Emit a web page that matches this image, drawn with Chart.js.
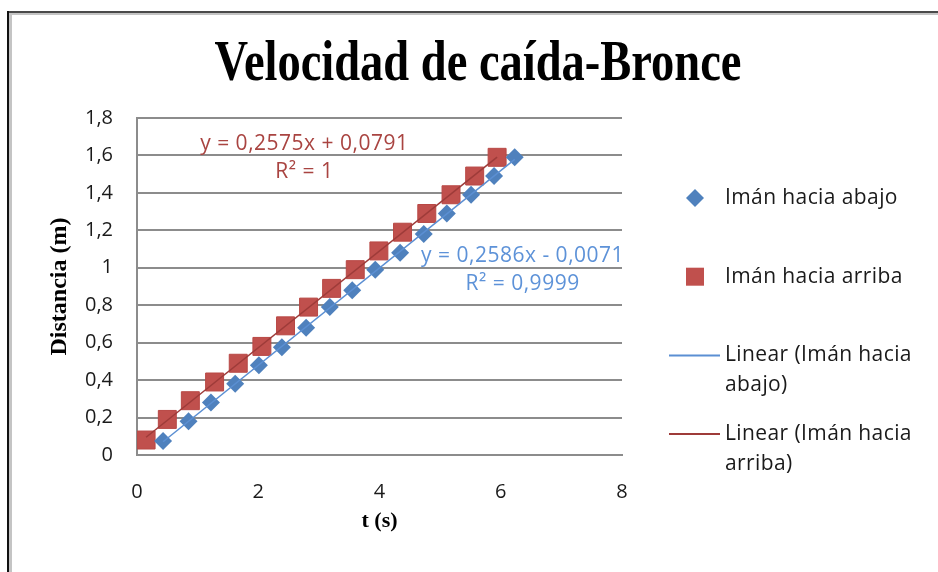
<!DOCTYPE html>
<html>
<head>
<meta charset="utf-8">
<script src="https://cdn.jsdelivr.net/npm/chart.js@4/dist/chart.umd.min.js"></script>
<style>
  html, body { margin: 0; padding: 0; background: #fff; }
  #wrap { position: relative; width: 938px; height: 572px; }
</style>
</head>
<body>
<div id="wrap"><canvas id="chart" width="938" height="572"></canvas></div>
<script>
// valores
const tAbajo  = [0.43, 0.85, 1.22, 1.62, 2.01, 2.39, 2.79, 3.18, 3.55, 3.93, 4.34, 4.73, 5.11, 5.51, 5.89, 6.23];
const dAbajo  = [0.075, 0.18, 0.28, 0.38, 0.48, 0.575, 0.68, 0.79, 0.88, 0.99, 1.08, 1.18, 1.29, 1.39, 1.49, 1.59];
const tArriba = [0.15, 0.50, 0.88, 1.28, 1.67, 2.06, 2.45, 2.83, 3.21, 3.60, 3.99, 4.38, 4.78, 5.18, 5.57, 5.94];
const dArriba = [0.08, 0.19, 0.29, 0.39, 0.49, 0.58, 0.69, 0.79, 0.89, 0.99, 1.09, 1.19, 1.29, 1.39, 1.49, 1.59];

const seriesLabels = ["Imán hacia abajo", "Imán hacia arriba"];
const trendLabels = ["Linear (Imán hacia abajo)", "Linear (Imán hacia arriba)"];
// etiquetas de las ecuaciones (texto y posición en unidades de datos)
const eqAbajo  = ["y = 0,2586x - 0,0071", "R² = 0,9999"];
const eqArriba = ["y = 0,2575x + 0,0791", "R² = 1"];
const eqAbajoAt  = [[6.36, 1.064], [6.36, 0.914]];
const eqArribaAt = [[2.76, 1.66], [2.76, 1.51]];

const BLUE = "#4f81bd";
const RED = "#c0504d";

function toPoints(xs, ys) { return xs.map((x, i) => ({ x, y: ys[i] })); }

function linearFit(xs, ys) {
    const n = xs.length;
    let sx = 0, sy = 0, sxx = 0, sxy = 0;
    for (let i = 0; i < n; i++) {
        sx += xs[i]; sy += ys[i]; sxx += xs[i] * xs[i]; sxy += xs[i] * ys[i];
    }
    const m = (n * sxy - sx * sy) / (n * sxx - sx * sx);
    const b = (sy - m * sx) / n;
    const x0 = Math.min(...xs), x1 = Math.max(...xs);
    return [{ x: x0, y: m * x0 + b }, { x: x1, y: m * x1 + b }];
}

function comma(v) {
    const r = Math.round(v * 10) / 10;
    return String(r).replace(".", ",");
}

const framePlugin = {
    id: "frame",
    beforeDraw(chart) {
        const ctx = chart.ctx;
        ctx.save();
        ctx.fillStyle = "#fff";
        ctx.fillRect(0, 0, chart.width, chart.height);
        ctx.fillStyle = "#4a4a4a";
        ctx.fillRect(7, 11, chart.width - 7, 2);
        ctx.fillStyle = "#c4c4c4";
        ctx.fillRect(9, 13, chart.width - 9, 2);
        ctx.fillStyle = "#111";
        ctx.fillRect(7, 11, 2, chart.height - 11);
        ctx.fillStyle = "#c4c4c4";
        ctx.fillRect(9, 13, 3, chart.height - 13);
        ctx.restore();
    }
};

const titlePlugin = {
    id: "bigTitle",
    afterDraw(chart) {
        const ctx = chart.ctx;
        ctx.save();
        ctx.translate(478, 80);
        ctx.scale(0.83, 1);
        ctx.font = "bold 56px 'Liberation Serif', 'Times New Roman', serif";
        ctx.fillStyle = "#000";
        ctx.textAlign = "center";
        ctx.textBaseline = "alphabetic";
        ctx.fillText("Velocidad de caída-Bronce", 0, 0);
        ctx.restore();
    }
};

const eqPlugin = {
    id: "equations",
    afterDatasetsDraw(chart) {
        const ctx = chart.ctx;
        const xs = chart.scales.x, ys = chart.scales.y;
        ctx.save();
        ctx.font = "21px 'Open Sans', sans-serif";
        ctx.letterSpacing = "0.5px";
        ctx.textAlign = "center";
        ctx.textBaseline = "middle";
        const draw = (lines, at, color) => {
            ctx.fillStyle = color;
            lines.forEach((txt, i) => {
                ctx.fillText(txt, xs.getPixelForValue(at[i][0]), ys.getPixelForValue(at[i][1]));
            });
        };
        draw(eqArriba, eqArribaAt, "#a94441");
        draw(eqAbajo, eqAbajoAt, "#5d92d8");
        ctx.restore();
    }
};

const legendPlugin = {
    id: "sideLegend",
    afterDraw(chart) {
        const ctx = chart.ctx;
        const area = chart.chartArea;
        const mx = area.right + 73;
        const tx = area.right + 103;
        const lineH = 30;
        ctx.save();
        ctx.font = "21px 'Open Sans', sans-serif";
        ctx.letterSpacing = "0.4px";
        ctx.textBaseline = "middle";
        ctx.textAlign = "left";
        chart.data.datasets.forEach((ds, i) => {
            const y = area.top + 80 + i * 78.7;
            ctx.fillStyle = ds.backgroundColor;
            ctx.strokeStyle = ds.borderColor;
            if (ds.showLine) {
                ctx.lineWidth = 2;
                ctx.beginPath();
                ctx.moveTo(mx - 26, y);
                ctx.lineTo(mx + 25, y);
                ctx.stroke();
            } else if (ds.pointStyle === "rectRot") {
                const r = 9;
                ctx.beginPath();
                ctx.moveTo(mx, y - r); ctx.lineTo(mx + r, y);
                ctx.lineTo(mx, y + r); ctx.lineTo(mx - r, y);
                ctx.closePath(); ctx.fill();
            } else {
                ctx.fillRect(mx - 9, y - 9, 18, 18);
            }
            // ajuste de línea manual del texto
            const words = ds.label.split(" ");
            const lines = [];
            let cur = "";
            for (const w of words) {
                const test = cur ? cur + " " + w : w;
                if (cur && ctx.measureText(test).width > 195) { lines.push(cur); cur = w; }
                else { cur = test; }
            }
            lines.push(cur);
            ctx.fillStyle = "#1a1a1a";
            lines.forEach((ln, k) => ctx.fillText(ln, tx, y + k * lineH));
        });
        ctx.restore();
    }
};

const gridColor = "#8c8c8c";
const tickFont = { family: "'Open Sans', sans-serif", size: 20 };
const axisTitleFont = { family: "'Liberation Serif', 'Times New Roman', serif", size: 24, weight: "bold" };

new Chart(document.getElementById("chart"), {
    type: "scatter",
    data: {
        datasets: [
            {
                label: seriesLabels[0],
                data: toPoints(tAbajo, dAbajo),
                pointStyle: "rectRot",
                pointRadius: 9,
                pointHoverRadius: 9,
                backgroundColor: BLUE,
                borderColor: BLUE,
                borderWidth: 0,
                showLine: false,
                order: 1,
            },
            {
                label: seriesLabels[1],
                data: toPoints(tArriba, dArriba),
                pointStyle: "rect",
                pointRadius: 12.7,
                pointHoverRadius: 12.7,
                backgroundColor: RED,
                borderColor: "#b84845",
                borderWidth: 1,
                showLine: false,
                order: 2,
            },
            {
                label: trendLabels[0],
                data: linearFit(tAbajo, dAbajo),
                showLine: true,
                pointRadius: 0,
                borderColor: "#5b8fd3",
                backgroundColor: "#5b8fd3",
                borderWidth: 1.5,
                order: 0,
            },
            {
                label: trendLabels[1],
                data: linearFit(tArriba, dArriba),
                showLine: true,
                pointRadius: 0,
                borderColor: "#9e3b39",
                backgroundColor: "#9e3b39",
                borderWidth: 1.5,
                order: 0,
            },
        ],
    },
    options: {
        responsive: false,
        animation: false,
        devicePixelRatio: 1,
        layout: { padding: { left: 0, right: 316, top: 118, bottom: 0 } },
        plugins: {
            legend: { display: false },
            title: { display: false },
            tooltip: { enabled: false },
        },
        scales: {
            x: {
                type: "linear",
                min: 0, max: 8,
                ticks: { stepSize: 2, font: tickFont, color: "#1a1a1a", padding: 25, maxRotation: 0 },
                grid: { display: false, drawTicks: false },
                border: { display: true, color: gridColor, width: 2 },
                title: { display: true, text: "t (s)", font: { ...axisTitleFont, size: 22 }, color: "#000",
                         padding: { top: 0, bottom: 37 } },
                afterFit(scale) { scale.height = 117; },
            },
            y: {
                type: "linear",
                min: 0, max: 1.8,
                ticks: { stepSize: 0.2, font: tickFont, color: "#1a1a1a", padding: 24, callback: v => comma(v) },
                grid: { color: gridColor, lineWidth: 2, drawTicks: false },
                border: { display: true, color: gridColor, width: 2 },
                title: { display: true, text: "Distancia (m)", font: axisTitleFont, color: "#000",
                         padding: { top: 45, bottom: 0 } },
                afterFit(scale) { scale.width = 137; },
            },
        },
    },
    plugins: [framePlugin, titlePlugin, eqPlugin, legendPlugin],
});
</script>
</body>
</html>
